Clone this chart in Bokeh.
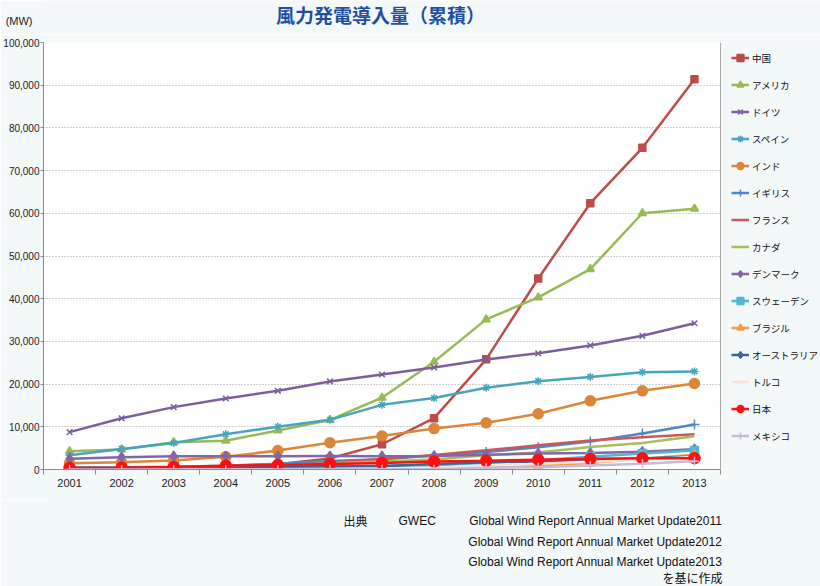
from bokeh.plotting import figure
from bokeh.layouts import column
from bokeh.models import (Range1d, FixedTicker, NumeralTickFormatter, Label, Span,
                          BoxAnnotation, LinearAxis)
from bokeh.embed import file_html
from bokeh.resources import INLINE

# ---- data (MW, cumulative) ----
years = [2001, 2002, 2003, 2004, 2005, 2006, 2007, 2008, 2009, 2010, 2011, 2012, 2013]
china = [404, 473, 571, 769, 1260, 2599, 5912, 12020, 25805, 44733, 62364, 75324, 91412]
usa = [4275, 4685, 6372, 6725, 9149, 11603, 16819, 25237, 35159, 40298, 46929, 60007, 61091]
germany = [8754, 11994, 14609, 16629, 18428, 20622, 22247, 23903, 25777, 27214, 29060, 31308, 34250]
spain = [3337, 4825, 6203, 8263, 10028, 11630, 15145, 16740, 19149, 20676, 21674, 22796, 22959]
india = [1456, 1702, 2125, 3000, 4430, 6270, 7850, 9587, 10925, 13065, 16084, 18421, 20150]
uk = [474, 552, 667, 888, 1353, 1963, 2389, 3288, 4070, 5204, 6540, 8445, 10531]
france = [93, 148, 257, 390, 757, 1567, 2454, 3404, 4492, 5660, 6800, 7564, 8254]
canada = [198, 236, 322, 444, 683, 1460, 1846, 2369, 3319, 4008, 5265, 6200, 7803]
denmark = [2489, 2889, 3116, 3118, 3128, 3136, 3125, 3180, 3465, 3752, 3871, 4162, 4772]
sweden = [293, 345, 399, 442, 510, 571, 831, 1021, 1560, 2163, 2970, 3745, 4470]
brazil = [21, 22, 29, 29, 29, 237, 247, 341, 606, 931, 1509, 2508, 3456]
australia = [73, 105, 198, 379, 708, 817, 817, 1306, 1712, 1880, 2224, 2584, 3049]
turkey = [19, 19, 19, 20, 20, 65, 207, 433, 801, 1329, 1799, 2312, 2959]
japan = [357, 415, 580, 896, 1040, 1309, 1528, 1880, 2056, 2304, 2501, 2614, 2661]
mexico = [3, 3, 3, 3, 3, 84, 85, 85, 402, 519, 929, 1370, 1917]

names = ["中国", "アメリカ", "ドイツ", "スペイン", "インド", "イギリス", "フランス", "カナダ",
         "デンマーク", "スウェーデン", "ブラジル", "オーストラリア", "トルコ", "日本", "メキシコ"]
values_list = [china, usa, germany, spain, india, uk, france, canada,
               denmark, sweden, brazil, australia, turkey, japan, mexico]

y_ticks = [0, 10000, 20000, 30000, 40000, 50000, 60000, 70000, 80000, 90000, 100000]

title_text = "風力発電導入量（累積）"
unit_text = "(MW)"
src_head = ["出典", "GWEC"]
src_lines = ["Global Wind Report Annual Market Update2011",
             "Global Wind Report Annual Market Update2012",
             "Global Wind Report Annual Market Update2013"]
src_tail = "を基に作成"

# ---- styles ----
colors = ["#bd4b48", "#98b954", "#7d5fa0", "#46a6bf", "#db8639", "#4f87c8", "#c9585a", "#a2c15c",
          "#8466a8", "#4fb6d4", "#f79a4c", "#3a6597", "#fbe2d5", "#ff1010", "#c4bdd9"]
markers = ["square", "triangle", "x", "asterisk", "circle", "cross", None, None,
           "diamond", "square", "triangle", "diamond", "dash", "circle", "cross"]
msizes = [7, 8, 8, 8, 10, 10, 0, 0, 10, 8, 9, 8, 8, 11, 9]

BG = "#f3f8f9"
CJK = "Noto Sans CJK JP"
LAT = "Liberation Sans"
W = 820
FL = 43          # left edge of the plotting area (all figures' frames are aligned to it)
FR = 720         # right edge of the plotting area

# ---- header ----
HEAD_H = 34
head = figure(width=W, height=HEAD_H, output_backend="svg", toolbar_location=None,
              x_axis_type=None, y_axis_type=None, min_border=0, min_border_left=FL,
              x_range=Range1d(0, 1), y_range=Range1d(0, HEAD_H))
head.background_fill_color = BG
head.border_fill_color = BG
head.outline_line_color = None
head.grid.visible = False
unit_axis = LinearAxis(ticker=FixedTicker(ticks=[HEAD_H - 20]),
                       major_label_overrides={HEAD_H - 20: unit_text},
                       major_tick_out=0, major_tick_in=0, minor_tick_out=0, minor_tick_in=0,
                       axis_line_color=None, major_label_standoff=FL - 32,
                       major_label_text_font=LAT, major_label_text_font_size="11px",
                       major_label_text_color="#222222")
head.add_layout(unit_axis, "left")
head.add_layout(Label(x=380 - FL, y=HEAD_H - 14, x_units="screen", y_units="screen",
                      text=title_text, text_font=CJK, text_font_size="19px",
                      text_font_style="bold", text_color="#1f4fa3",
                      text_align="center", text_baseline="middle"))

# ---- main chart ----
x_end = 2000.5 + (W - FL) / ((FR - FL) / 13.0)
p = figure(width=W, height=465, output_backend="svg", toolbar_location=None,
           x_range=Range1d(2000.5, x_end), y_range=Range1d(0, 100000),
           min_border_left=FL, min_border_right=0, min_border_top=42 - HEAD_H, min_border_bottom=30)
p.background_fill_color = "white"
p.border_fill_color = BG
p.outline_line_color = None

p.yaxis.ticker = FixedTicker(ticks=y_ticks)
p.yaxis.formatter = NumeralTickFormatter(format="0,0")
p.yaxis.major_label_text_font = LAT
p.yaxis.major_label_text_font_size = "10px"
p.yaxis.major_label_text_color = "#222222"
p.yaxis.major_tick_out = 3
p.yaxis.major_tick_in = 0
p.yaxis.minor_tick_out = 0
p.yaxis.major_label_standoff = 1
p.yaxis.axis_line_color = "#8c8c8c"
p.yaxis.major_tick_line_color = "#8c8c8c"

p.xaxis.bounds = (2000.5, 2013.5)
p.xaxis.ticker = FixedTicker(ticks=years, minor_ticks=[y - 0.5 for y in years] + [years[-1] + 0.5])
p.xaxis.major_label_text_font = LAT
p.xaxis.major_label_text_font_size = "11px"
p.xaxis.major_label_text_color = "#222222"
p.xaxis.major_tick_out = 0
p.xaxis.major_tick_in = 0
p.xaxis.minor_tick_out = 5
p.xaxis.minor_tick_in = 0
p.xaxis.minor_tick_line_color = "#8c8c8c"
p.xaxis.major_label_standoff = 4
p.xaxis.axis_line_color = "#8c8c8c"

p.xgrid.grid_line_color = None
p.ygrid.ticker = FixedTicker(ticks=y_ticks[1:])
p.ygrid.grid_line_color = "#a0a0a0"
p.ygrid.grid_line_dash = "1 2"
p.ygrid.grid_line_width = 1

# legend area (outside the plotting area) in page colour
p.add_layout(BoxAnnotation(left=2013.5, fill_color=BG, fill_alpha=1.0, line_color=None))
p.add_layout(Span(location=2013.5, dimension="height", line_color="#a8a8a8", line_width=1))

for name, vals, col, mk, ms in zip(names, values_list, colors, markers, msizes):
    p.line(years, vals, line_color=col, line_width=2.5, legend_label=name)
    if mk is not None:
        p.scatter(years, vals, marker=mk, size=ms, line_color=col, fill_color=col,
                  line_width=1.5, legend_label=name)

lg = p.legend[0]
lg.location = (731 - FL, 25)
lg.margin = 0
lg.padding = 0
lg.spacing = 10
lg.glyph_width = 18
lg.glyph_height = 17
lg.label_height = 17
lg.label_standoff = 3
lg.label_text_font = CJK
lg.label_text_font_size = "9.5px"
lg.label_text_color = "#111111"
lg.background_fill_alpha = 0
lg.border_line_color = None

# ---- footer ----
foot = figure(width=W, height=87, output_backend="svg", toolbar_location=None,
              x_axis_type=None, y_axis_type=None, min_border=0, min_border_left=FL,
              x_range=Range1d(0, 1), y_range=Range1d(0, 1))
foot.background_fill_color = BG
foot.border_fill_color = BG
foot.outline_line_color = None
foot.grid.visible = False
line_y = [66, 45, 25]
foot.add_layout(Label(x=343 - FL, y=line_y[0], x_units="screen", y_units="screen", text=src_head[0],
                      text_font=CJK, text_font_size="12px", text_color="#111111",
                      text_align="left", text_baseline="middle"))
foot.add_layout(Label(x=398 - FL, y=line_y[0], x_units="screen", y_units="screen", text=src_head[1],
                      text_font=LAT, text_font_size="12px", text_color="#111111",
                      text_align="left", text_baseline="middle"))
for yy, t in zip(line_y, src_lines):
    foot.add_layout(Label(x=722 - FL, y=yy, x_units="screen", y_units="screen", text=t,
                          text_font=LAT, text_font_size="12px", text_color="#111111",
                          text_align="right", text_baseline="middle"))
foot.add_layout(Label(x=722 - FL, y=9, x_units="screen", y_units="screen", text=src_tail,
                      text_font=CJK, text_font_size="12px", text_color="#111111",
                      text_align="right", text_baseline="middle"))

page = column(head, p, foot, spacing=0)
open("out.html", "w").write(file_html(page, INLINE))
